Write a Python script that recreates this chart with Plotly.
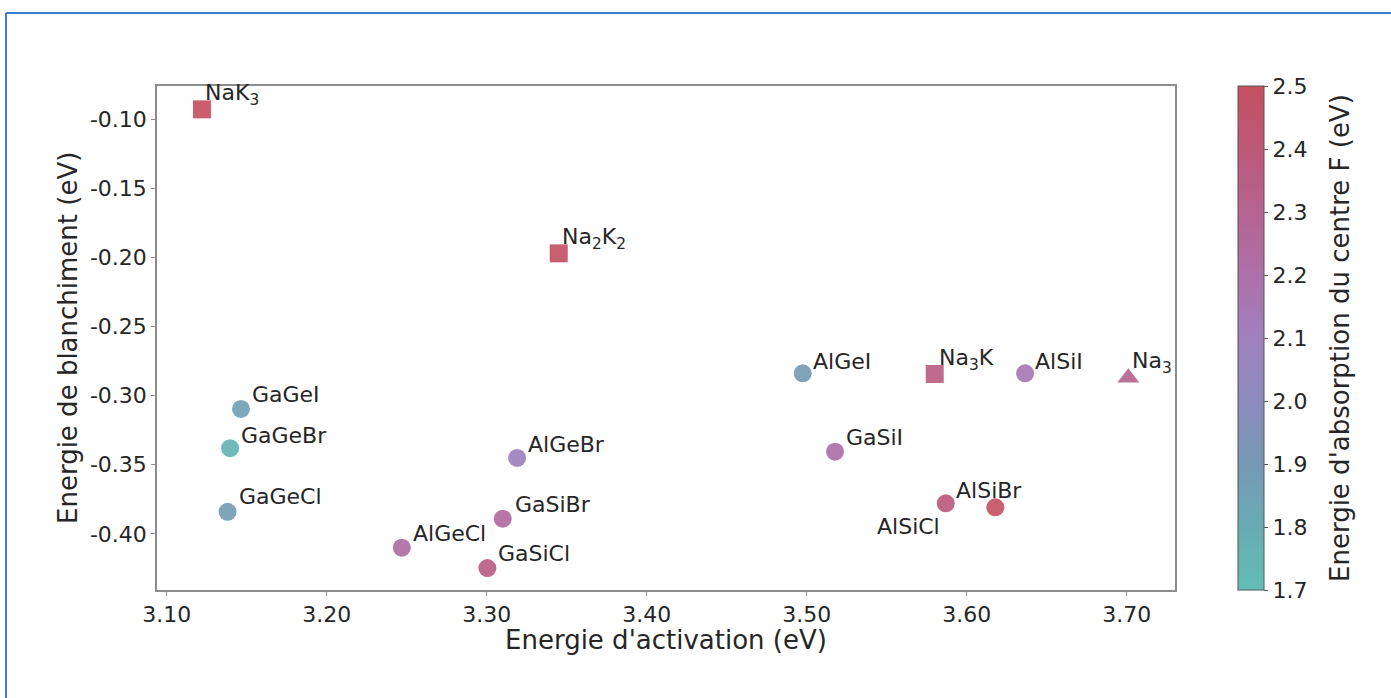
import plotly.graph_objects as go

# ---------------- data ----------------
names = ["NaK<sub>3</sub>", "Na<sub>2</sub>K<sub>2</sub>", "Na<sub>3</sub>K", "Na<sub>3</sub>",
         "AlGeI", "AlSiI", "GaSiI", "AlSiCl", "AlSiBr",
         "GaGeI", "GaGeBr", "GaGeCl", "AlGeBr", "GaSiBr", "AlGeCl", "GaSiCl"]
activation = [3.122, 3.345, 3.580, 3.701,
              3.4975, 3.6365, 3.5177, 3.5869, 3.6179,
              3.1464, 3.1396, 3.138, 3.319, 3.310, 3.2469, 3.3004]
bleaching = [-0.0928, -0.197, -0.2843, -0.287,
             -0.2838, -0.2838, -0.3405, -0.3779, -0.3808,
             -0.3096, -0.338, -0.384, -0.345, -0.389, -0.410, -0.4247]
f_center = [2.50, 2.48, 2.35, 2.30,
            1.89, 2.15, 2.20, 2.38, 2.48,
            1.86, 1.76, 1.88, 2.08, 2.25, 2.22, 2.35]
kinds = ["square", "square", "square", "triangle-up",
         "circle", "circle", "circle", "circle", "circle",
         "circle", "circle", "circle", "circle", "circle", "circle", "circle"]

x_ticks = [3.10, 3.20, 3.30, 3.40, 3.50, 3.60, 3.70]
x_tick_labels = ["3.10", "3.20", "3.30", "3.40", "3.50", "3.60", "3.70"]
y_ticks = [-0.10, -0.15, -0.20, -0.25, -0.30, -0.35, -0.40]
y_tick_labels = ["-0.10", "-0.15", "-0.20", "-0.25", "-0.30", "-0.35", "-0.40"]
cb_ticks = [1.7, 1.8, 1.9, 2.0, 2.1, 2.2, 2.3, 2.4, 2.5]
x_title = "Energie d'activation (eV)"
y_title = "Energie de blanchiment (eV)"
cb_title = "Energie d'absorption du centre F (eV)"

# ---------------- style ----------------
# label offsets in pixels (dx right, dy down) and horizontal anchor
label_style = [(1, -15, "left"), (1, -15, "left"), (2, -15, "left"), (2, -15, "left"),
               (8, -12, "left"), (8, -12, "left"), (9, -14, "left"), (-4, 23, "right"), (-41, -17, "left"),
               (9, -14, "left"), (9, -13, "left"), (9, -15, "left"), (9, -13, "left"), (10, -14, "left"),
               (9, -14, "left"), (9, -15, "left")]

colorscale = [
    [0.0, "rgb(98,190,181)"],
    [0.125, "rgb(105,172,180)"],
    [0.25, "rgb(118,153,180)"],
    [0.375, "rgb(140,140,188)"],
    [0.5, "rgb(160,128,190)"],
    [0.625, "rgb(172,112,168)"],
    [0.75, "rgb(181,100,145)"],
    [0.875, "rgb(189,88,120)"],
    [1.0, "rgb(197,80,96)"],
]

FONT = "DejaVu Sans"
TXT = "#262626"
W, H = 1391, 698
L, R, T, B = 157, 1391 - 1175, 86, 698 - 590
TICK_SIZE = 22
LABEL_SIZE = 22
TITLE_SIZE = 26

sizes = [18 if k != "triangle-up" else 19 for k in kinds]

pw = W - L - R
ph = H - T - B

fig = go.Figure()
fig.add_trace(go.Scatter(
    x=activation, y=bleaching, mode="markers",
    marker=dict(
        symbol=kinds, size=sizes, color=f_center,
        colorscale=colorscale, cmin=1.7, cmax=2.5, opacity=0.92,
        line=dict(width=0),
        showscale=True,
        colorbar=dict(
            x=(1238 - L) / pw, xanchor="left", xref="paper", xpad=0, ypad=0,
            y=0.5, yanchor="middle", len=1.0, lenmode="fraction",
            thickness=26, thicknessmode="pixels",
            outlinewidth=1, outlinecolor="#555555",
            tickmode="array", tickvals=cb_ticks,
            ticktext=[f"{v:.1f}" for v in cb_ticks],
            ticks="outside", ticklen=4, tickcolor="#555555",
            tickfont=dict(family=FONT, size=TICK_SIZE, color=TXT),
        ),
    ),
    showlegend=False, hoverinfo="skip",
))

annotations = []
for xv, yv, nm, (dx, dy, anc) in zip(activation, bleaching, names, label_style):
    annotations.append(dict(
        x=xv, y=yv, xref="x", yref="y", text=nm, showarrow=False,
        xanchor=anc, yanchor="middle", xshift=dx, yshift=-dy,
        font=dict(family=FONT, size=LABEL_SIZE, color=TXT),
    ))

# axis / colorbar titles as positioned text
annotations.append(dict(
    x=(1340 - L) / pw, y=0.5, xref="paper", yref="paper", text=cb_title,
    showarrow=False, textangle=-90, xanchor="center", yanchor="middle",
    font=dict(family=FONT, size=TITLE_SIZE, color=TXT),
))
annotations.append(dict(
    x=0.5, y=(590 - 640) / ph, xref="paper", yref="paper", text=x_title,
    showarrow=False, xanchor="center", yanchor="middle",
    font=dict(family=FONT, size=TITLE_SIZE, color=TXT),
))
annotations.append(dict(
    x=(68 - L) / pw, y=0.5, xref="paper", yref="paper", text=y_title,
    showarrow=False, textangle=-90, xanchor="center", yanchor="middle",
    font=dict(family=FONT, size=TITLE_SIZE, color=TXT),
))

shapes = [
    # blue page frame (top and left edges visible)
    dict(type="line", xref="paper", yref="paper",
         x0=(6 - L) / pw, x1=(W + 10 - L) / pw, y0=1 + (T - 13) / ph, y1=1 + (T - 13) / ph,
         line=dict(color="#3d7dd0", width=2)),
    dict(type="line", xref="paper", yref="paper",
         x0=(6 - L) / pw, x1=(6 - L) / pw, y0=1 + (T - 13) / ph, y1=-(B + 10) / ph,
         line=dict(color="#3d7dd0", width=2)),
]

fig.update_layout(
    width=W, height=H,
    margin=dict(l=L, r=R, t=T, b=B, autoexpand=False),
    paper_bgcolor="white", plot_bgcolor="white",
    font=dict(family=FONT, color=TXT),
    annotations=annotations, shapes=shapes,
    xaxis=dict(
        range=[3.0939, 3.7302], tickmode="array", tickvals=x_ticks, ticktext=x_tick_labels,
        showgrid=False, zeroline=False,
        showline=True, linecolor="#8c8c8c", linewidth=1.5, mirror=True,
        ticks="outside", ticklen=4, tickcolor="#8c8c8c",
        tickfont=dict(family=FONT, size=TICK_SIZE, color=TXT),
    ),
    yaxis=dict(
        range=[-0.4406, -0.0759], tickmode="array", tickvals=y_ticks, ticktext=y_tick_labels,
        showgrid=False, zeroline=False,
        showline=True, linecolor="#8c8c8c", linewidth=1.5, mirror=True,
        ticks="outside", ticklen=4, tickcolor="#8c8c8c",
        tickfont=dict(family=FONT, size=TICK_SIZE, color=TXT),
    ),
)

fig.write_html("out.html", config={"displayModeBar": False},
               post_script="document.body.style.margin='0px';")
